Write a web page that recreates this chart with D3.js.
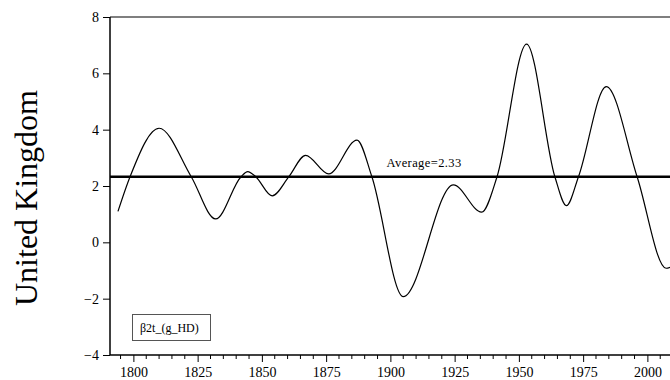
<!DOCTYPE html>
<html>
<head>
<meta charset="utf-8">
<script src="https://d3js.org/d3.v7.min.js"></script>
<style>
  body { margin: 0; background: #fff; }
  text { font-family: "Liberation Serif", "DejaVu Serif", serif; fill: #000; }
</style>
</head>
<body>
<svg id="chart" width="670" height="380"></svg>
<script>
// smoothed series: turning points and crossings of the average
var years  = [1794, 1798.7, 1810, 1822.5, 1832, 1841.9, 1844.5, 1847.6, 1854, 1860.5, 1867, 1876,
              1887, 1892.8, 1905, 1924.5, 1935.5, 1941.5, 1953, 1964, 1968.5,
              1973.2, 1984, 1996, 2007.3, 2009];
var values = [1.10, 2.33, 4.05, 2.33, 0.83, 2.33, 2.51, 2.33, 1.65, 2.33, 3.09, 2.43,
              3.63, 2.33, -1.93, 2.04, 1.07, 2.33, 7.04, 2.33, 1.3,
              2.33, 5.53, 2.33, -0.92, -0.88];
var average = 2.33;
var yTicks = [-4, -2, 0, 2, 4, 6, 8];
var xMajor = [1800, 1825, 1850, 1875, 1900, 1925, 1950, 1975, 2000];
var xMinor = d3.range(1795, 2010, 5);
var countryLabel = "United Kingdom";
var seriesLabel = "\u03b22t_(g_HD)";

var svg = d3.select("#chart");

var m = { left: 110, right: 670, top: 17, bottom: 355 };

var x = d3.scaleLinear().domain([1790.9, 2008.8]).range([m.left, m.right]);
var y = d3.scaleLinear().domain([-4, 8]).range([m.bottom, m.top]);

var data = years.map(function (d, i) { return { year: d, value: values[i] }; });

// clip so the curve stops at the frame
svg.append("clipPath").attr("id", "clip")
    .append("rect")
    .attr("x", m.left).attr("y", m.top)
    .attr("width", m.right - m.left).attr("height", m.bottom - m.top);

// frame: top line
svg.append("line")
    .attr("x1", m.left).attr("x2", m.right)
    .attr("y1", m.top).attr("y2", m.top)
    .style("stroke", "#000").style("stroke-width", 1.2);

// y axis
var yAxis = svg.append("g").attr("transform", "translate(" + m.left + ",0)")
    .call(d3.axisLeft(y).tickValues(yTicks).tickSize(7).tickPadding(4).tickFormat(d3.format("d")));
yAxis.select(".domain").remove();
yAxis.selectAll("line").style("stroke", "#000").style("stroke-width", 1);
yAxis.selectAll("text").style("font-size", "14px").style("font-family", "Liberation Serif");
svg.append("line")
    .attr("x1", m.left).attr("x2", m.left)
    .attr("y1", m.top).attr("y2", m.bottom)
    .style("stroke", "#000").style("stroke-width", 1.5);

// x axis
var xAxis = svg.append("g").attr("transform", "translate(0," + m.bottom + ")")
    .call(d3.axisBottom(x).tickValues(xMajor).tickSize(7).tickPadding(5).tickFormat(d3.format("d")));
xAxis.select(".domain").remove();
xAxis.selectAll("line").style("stroke", "#000").style("stroke-width", 1);
xAxis.selectAll("text").style("font-size", "14px").style("font-family", "Liberation Serif");

svg.append("g")
    .selectAll("line")
    .data(xMinor.filter(function (d) { return xMajor.indexOf(d) < 0; }))
    .join("line")
    .attr("x1", function (d) { return x(d); })
    .attr("x2", function (d) { return x(d); })
    .attr("y1", m.bottom).attr("y2", m.bottom + 4)
    .style("stroke", "#000").style("stroke-width", 1);

svg.append("line")
    .attr("x1", m.left).attr("x2", m.right)
    .attr("y1", m.bottom).attr("y2", m.bottom)
    .style("stroke", "#000").style("stroke-width", 1.5);

// average line
svg.append("line")
    .attr("x1", m.left).attr("x2", m.right)
    .attr("y1", y(average)).attr("y2", y(average))
    .style("stroke", "#000").style("stroke-width", 2.4);

svg.append("text")
    .attr("x", x(1898.5))
    .attr("y", y(average) - 10)
    .style("font-size", "12.5px")
    .style("letter-spacing", "0.4px")
    .text("Average=" + average);

// the series
var line = d3.line()
    .x(function (d) { return x(d.year); })
    .y(function (d) { return y(d.value); })
    .curve(d3.curveMonotoneX);

svg.append("path")
    .datum(data)
    .attr("clip-path", "url(#clip)")
    .attr("d", line)
    .style("fill", "none")
    .style("stroke", "#000")
    .style("stroke-width", 1.2);

// legend box
svg.append("rect")
    .attr("x", 132.5).attr("y", 314.5)
    .attr("width", 78).attr("height", 26)
    .style("fill", "#fff")
    .style("stroke", "#555").style("stroke-width", 1);
svg.append("text")
    .attr("x", 140).attr("y", 331.5)
    .style("font-size", "12px")
    .text(seriesLabel);

// country label
svg.append("text")
    .attr("transform", "translate(37,198) rotate(-90)")
    .attr("text-anchor", "middle")
    .style("font-size", "32px")
    .text(countryLabel);
</script>
</body>
</html>
